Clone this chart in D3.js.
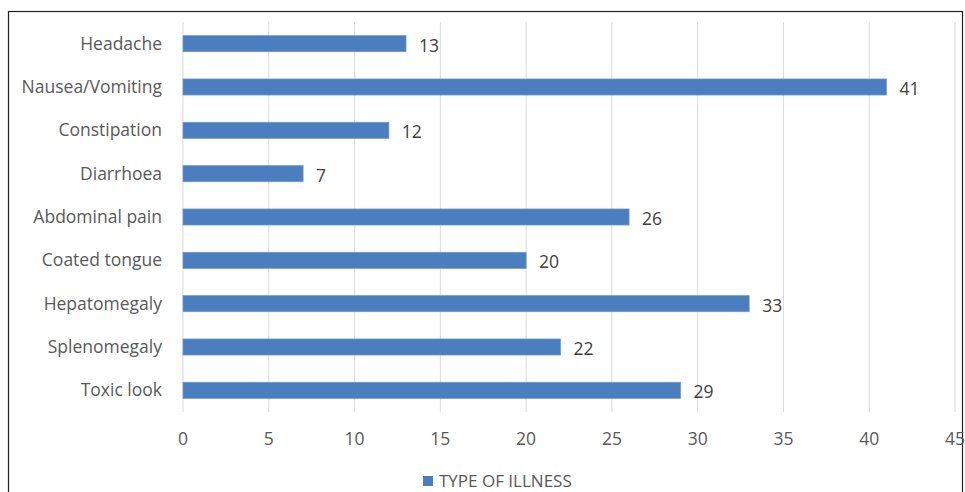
<!DOCTYPE html>
<html>
<head>
<meta charset="utf-8">
<script src="https://cdn.jsdelivr.net/npm/d3@7"></script>
<style>
  html, body { margin: 0; padding: 0; background: #fff; }
  svg text { font-family: "Open Sans", "Noto Sans", sans-serif; }
</style>
</head>
<body>
<div id="chart"></div>
<script>
const categories = ["Headache", "Nausea/Vomiting", "Constipation", "Diarrhoea", "Abdominal pain",
  "Coated tongue", "Hepatomegaly", "Splenomegaly", "Toxic look"];
const values = [13, 41, 12, 7, 26, 20, 33, 22, 29];
const xTicks = [0, 5, 10, 15, 20, 25, 30, 35, 40, 45];
const seriesName = "TYPE OF ILLNESS";

const width = 965;
const height = 492;
const margin = { top: 22, right: 10, bottom: 80, left: 183 };

const svg = d3.select("#chart")
  .append("svg")
  .attr("width", width)
  .attr("height", height);

// outer frame
svg.append("rect")
  .attr("x", 8.5).attr("y", 11.5)
  .attr("width", 954).attr("height", 490)
  .attr("fill", "none")
  .attr("stroke", "#222")
  .attr("stroke-width", 1.2);

const x = d3.scaleLinear().domain([0, 45]).range([margin.left, 955]);
const y = d3.scaleBand().domain(categories).range([margin.top, 412]).paddingInner(0.63).paddingOuter(0.315);

// gridlines
svg.append("g")
  .selectAll("line")
  .data(xTicks)
  .join("line")
  .attr("x1", d => x(d)).attr("x2", d => x(d))
  .attr("y1", margin.top).attr("y2", 412)
  .attr("stroke", "#d9d9d9")
  .attr("stroke-width", 1);

// x tick labels
svg.append("g")
  .selectAll("text")
  .data(xTicks)
  .join("text")
  .attr("x", d => x(d))
  .attr("y", 439)
  .attr("dy", "0.35em")
  .attr("text-anchor", "middle")
  .attr("font-size", 17.5)
  .attr("fill", "#595959")
  .text(d => d);

// category labels
svg.append("g")
  .selectAll("text")
  .data(categories)
  .join("text")
  .attr("x", 162)
  .attr("y", d => y(d) + y.bandwidth() / 2)
  .attr("dy", "0.35em")
  .attr("text-anchor", "end")
  .attr("font-size", 17.5)
  .attr("fill", "#595959")
  .text(d => d);

// bars
svg.append("g")
  .selectAll("rect")
  .data(values)
  .join("rect")
  .attr("x", x(0))
  .attr("y", (d, i) => y(categories[i]))
  .attr("width", d => x(d) - x(0))
  .attr("height", y.bandwidth())
  .attr("fill", "#4a7ebf")
  .attr("stroke", "#6f97cc")
  .attr("stroke-width", 0.8);

// value labels
svg.append("g")
  .selectAll("text")
  .data(values)
  .join("text")
  .attr("x", d => x(d) + 13)
  .attr("y", (d, i) => y(categories[i]) + y.bandwidth() / 2 + 2)
  .attr("dy", "0.35em")
  .attr("font-size", 17.5)
  .attr("fill", "#404040")
  .text(d => d);

// legend
const legend = svg.append("g").attr("transform", "translate(423, 481)");
legend.append("rect")
  .attr("x", 0).attr("y", -5)
  .attr("width", 10).attr("height", 10)
  .attr("fill", "#4a7ebf");
legend.append("text")
  .attr("x", 16).attr("y", 0)
  .attr("dy", "0.35em")
  .attr("font-size", 17)
  .attr("fill", "#595959")
  .text(seriesName);
</script>
</body>
</html>
